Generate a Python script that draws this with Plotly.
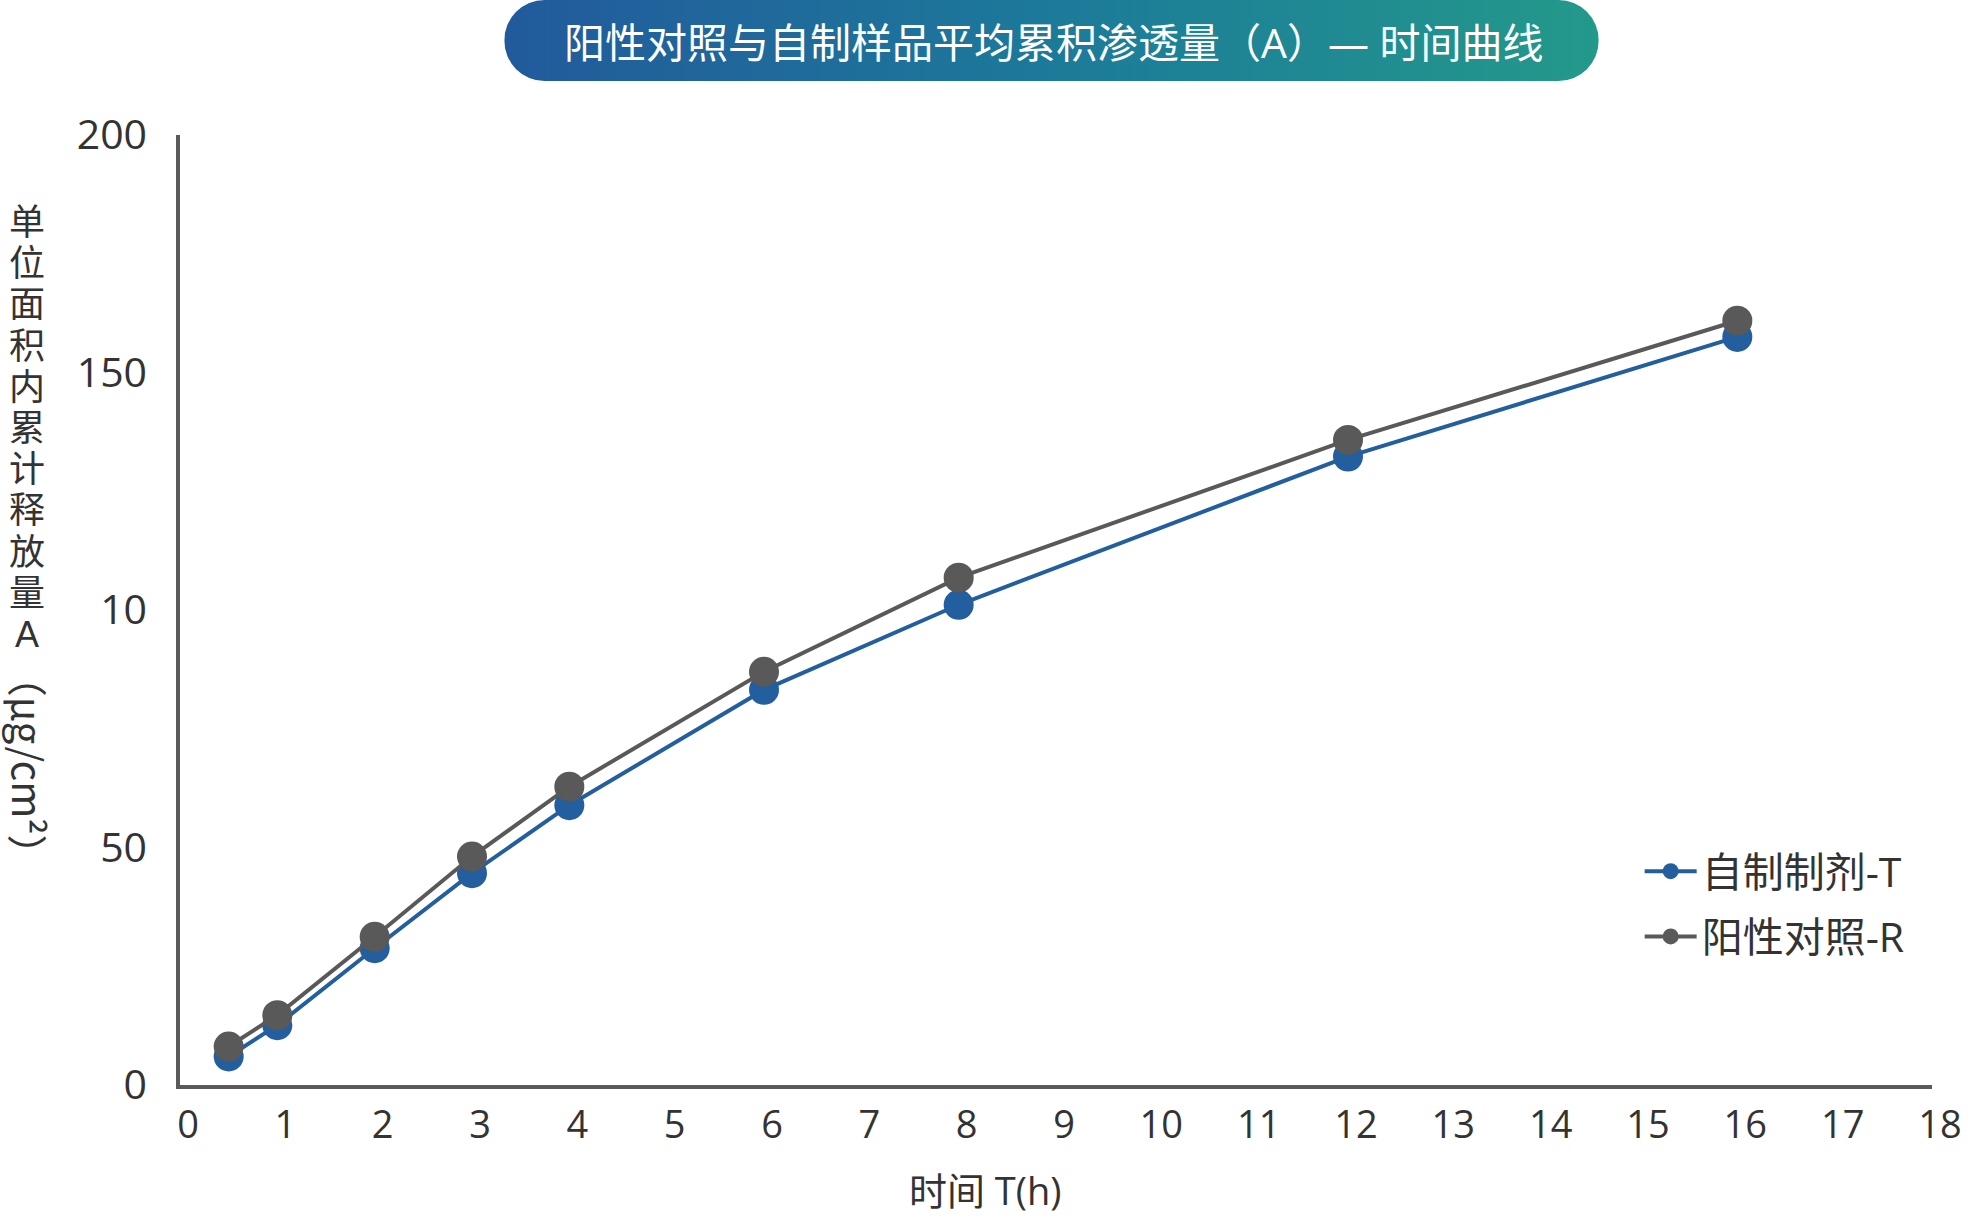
import base64
import plotly.graph_objects as go

# ---------------- data ----------------
time_h = [0.5, 1, 2, 3, 4, 6, 8, 12, 16]
self_made_T = [6.0, 12.6, 28.8, 44.6, 58.9, 83.2, 101.1, 132.3, 157.5]
positive_R = [8.1, 14.7, 31.2, 48.1, 62.8, 87.0, 106.8, 135.8, 160.9]
series_names = ["自制制剂-T", "阳性对照-R"]
x_ticks = list(range(0, 19))
y_tick_vals = [0, 50, 100, 150, 200]
y_tick_text = ["0", "50", "10", "150", "200"]
title_text = "阳性对照与自制样品平均累积渗透量（A）— 时间曲线"
x_title = "时间 T(h)"
y_title_upright = "单位面积内累计释放量A"
y_title_rotated = "（μg/cm²）"

# ---------------- layout constants ----------------
W, H = 1974, 1218
ML, MR, MT, MB = 180, 38, 135, 133
PW, PH = W - ML - MR, H - MT - MB
BLUE = "#235E9E"
GREY = "#595959"
TEXT = "#333333"
FONT = "Open Sans, Noto Sans CJK SC, sans-serif"
CJK = "Noto Sans CJK SC, sans-serif"
STACK_FONT = "Liberation Sans, Noto Sans CJK SC, sans-serif"


def px_x(p):
    return (p - ML) / PW


def px_y(p):
    return (H - MB - p) / PH


fig = go.Figure()
fig.add_trace(go.Scatter(
    x=time_h, y=self_made_T, name=series_names[0], mode="lines+markers",
    line=dict(color=BLUE, width=4), marker=dict(color=BLUE, size=30),
    legendgroup="a"))
fig.add_trace(go.Scatter(
    x=time_h, y=positive_R, name=series_names[1], mode="lines+markers",
    line=dict(color=GREY, width=4), marker=dict(color=GREY, size=30),
    legendgroup="b"))

# gradient pill behind title
pill_l, pill_r, pill_t, pill_b = 505, 1602, 0, 81
pw_, ph_ = pill_r - pill_l, pill_b - pill_t
svg = f'''<svg xmlns="http://www.w3.org/2000/svg" width="{pw_}" height="{ph_}" viewBox="0 0 {pw_} {ph_}" preserveAspectRatio="none">
<defs><linearGradient id="g" x1="0" y1="0" x2="1" y2="0">
<stop offset="0" stop-color="#225A9C"/><stop offset="0.5" stop-color="#1C7A9A"/><stop offset="1" stop-color="#23998A"/>
</linearGradient></defs>
<rect x="0" y="0" width="{pw_}" height="{ph_}" rx="{ph_/2}" ry="{ph_/2}" fill="url(#g)"/></svg>'''
src = "data:image/svg+xml;base64," + base64.b64encode(svg.encode()).decode()
fig.add_layout_image(dict(
    source=src, xref="paper", yref="paper", x=px_x(pill_l), y=px_y(pill_t),
    sizex=pw_ / PW, sizey=ph_ / PH, xanchor="left", yanchor="top",
    sizing="stretch", layer="above"))

# upright stacked y-title: one text element, line pitch from base size
pitch = 41.2
base_size = pitch / 1.3
stack = "<br>".join(f'<span style="font-size:36px">{c}</span>' for c in y_title_upright)
first_c, last_c = 222, 222 + pitch * (len(y_title_upright) - 1)

annotations = [
    dict(text=title_text, x=px_x(1056), y=px_y(42), xref="paper", yref="paper",
         showarrow=False, font=dict(family=FONT, size=41, color="white"),
         xanchor="center", yanchor="middle"),
    dict(text=x_title, x=px_x(987), y=px_y(1190), xref="paper", yref="paper",
         showarrow=False, font=dict(family=FONT, size=38, color=TEXT),
         xanchor="center", yanchor="middle"),
    dict(text=y_title_rotated, x=px_x(29), y=px_y(766), xref="paper", yref="paper",
         showarrow=False, textangle=90, font=dict(family=CJK, size=40, color=TEXT),
         xanchor="center", yanchor="middle"),
    dict(text=stack, x=px_x(27), y=px_y((first_c + last_c) / 2), xref="paper", yref="paper",
         showarrow=False, font=dict(family=STACK_FONT, size=base_size, color=TEXT),
         xanchor="center", yanchor="middle"),
]

fig.update_layout(
    width=W, height=H,
    margin=dict(l=ML, r=MR, t=MT, b=MB),
    paper_bgcolor="white", plot_bgcolor="white",
    font=dict(family=FONT, color=TEXT),
    annotations=annotations,
    legend=dict(x=px_x(1643), y=px_y(838), xanchor="left", yanchor="top",
                font=dict(family=FONT, size=41, color=TEXT),
                bgcolor="rgba(0,0,0,0)", tracegroupgap=9, itemwidth=52),
    xaxis=dict(range=[0, 18], tickvals=x_ticks, ticktext=[str(v) for v in x_ticks],
               showline=True, linecolor="#5A5A5A", linewidth=3.5, showgrid=False,
               zeroline=False, ticks="", tickfont=dict(family=FONT, size=38, color=TEXT),
               ticklabelshift=8, ticklabelstandoff=4),
    yaxis=dict(range=[0, 200], tickvals=y_tick_vals, ticktext=y_tick_text,
               showline=True, linecolor="#5A5A5A", linewidth=3.5, showgrid=False,
               zeroline=False, ticks="", tickfont=dict(family=FONT, size=41, color=TEXT),
               ticklabelstandoff=21),
)

fig.write_html("out.html", config={"displayModeBar": False},
               post_script="document.body.style.margin='0';")
